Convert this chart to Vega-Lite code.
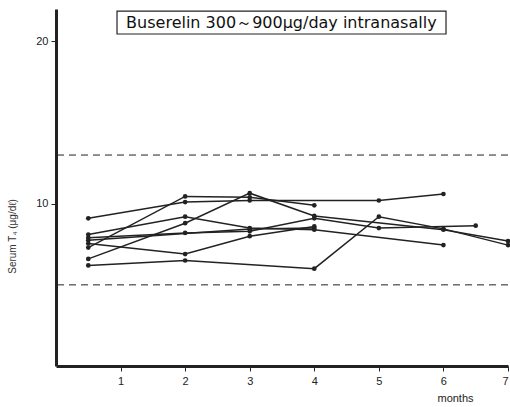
{
  "$schema": "https://vega.github.io/schema/vega-lite/v6.json",
  "width": 452,
  "height": 357,
  "autosize": "none",
  "padding": {"left": 56, "top": 9, "right": 2, "bottom": 41},
  "background": "white",
  "config": {"view": {"stroke": null}, "font": "Liberation Sans"},
  "datasets": {
    "series": [
      {"id": "A", "month": 0.5, "t4": 9.1}, {"id": "A", "month": 2, "t4": 10.1}, {"id": "A", "month": 3, "t4": 10.2}, {"id": "A", "month": 5, "t4": 10.2}, {"id": "A", "month": 6, "t4": 10.6},
      {"id": "B", "month": 0.5, "t4": 7.3}, {"id": "B", "month": 2, "t4": 10.45}, {"id": "B", "month": 3, "t4": 10.4}, {"id": "B", "month": 4, "t4": 9.9},
      {"id": "C", "month": 0.5, "t4": 6.6}, {"id": "C", "month": 2, "t4": 8.8}, {"id": "C", "month": 3, "t4": 10.65}, {"id": "C", "month": 4, "t4": 9.25}, {"id": "C", "month": 6, "t4": 8.4}, {"id": "C", "month": 7, "t4": 7.7},
      {"id": "D", "month": 0.5, "t4": 8.1}, {"id": "D", "month": 2, "t4": 9.2}, {"id": "D", "month": 3, "t4": 8.5}, {"id": "D", "month": 4, "t4": 8.4}, {"id": "D", "month": 6, "t4": 7.45},
      {"id": "E", "month": 0.5, "t4": 7.9}, {"id": "E", "month": 2, "t4": 8.2}, {"id": "E", "month": 3, "t4": 8.3}, {"id": "E", "month": 4, "t4": 9.1}, {"id": "E", "month": 5, "t4": 8.5}, {"id": "E", "month": 6.5, "t4": 8.65},
      {"id": "F", "month": 0.5, "t4": 7.55}, {"id": "F", "month": 2, "t4": 6.9}, {"id": "F", "month": 3, "t4": 8.0}, {"id": "F", "month": 4, "t4": 8.6},
      {"id": "G", "month": 0.5, "t4": 6.2}, {"id": "G", "month": 2, "t4": 6.5}, {"id": "G", "month": 4, "t4": 6.0}, {"id": "G", "month": 5, "t4": 9.2}, {"id": "G", "month": 6, "t4": 8.45}, {"id": "G", "month": 7, "t4": 7.45},
      {"id": "H", "month": 0.5, "t4": 7.75}, {"id": "H", "month": 3, "t4": 8.45}, {"id": "H", "month": 4, "t4": 8.5}
    ],
    "limits": [{"t4": 13}, {"t4": 5}],
    "note": [{"label": "Buserelin 300～900μg/day intranasally"}]
  },
  "layer": [
    {
      "data": {"name": "limits"},
      "mark": {"type": "rule", "color": "#222", "strokeWidth": 1, "strokeDash": [7, 5]},
      "encoding": {"y": {"field": "t4", "type": "quantitative", "scale": {"domain": [0, 22]}}}
    },
    {
      "data": {"name": "series"},
      "mark": {"type": "line", "color": "#222", "strokeWidth": 1.5, "point": {"filled": true, "size": 22, "color": "#222"}},
      "encoding": {
        "x": {"field": "month", "type": "quantitative", "scale": {"domain": [0, 7], "nice": false},
          "axis": {"values": [1, 2, 3, 4, 5, 6, 7], "format": "d", "domainWidth": 3, "domainColor": "#222", "tickColor": "#222", "tickSize": 5, "grid": false, "labelFontSize": 11, "labelColor": "#222", "labelPadding": 4,
            "title": "months", "titleFontSize": 11, "titleFontWeight": "normal", "titleColor": "#222", "titleX": 399, "titleY": 32, "titleBaseline": "middle"}},
        "y": {"field": "t4", "type": "quantitative", "scale": {"domain": [0, 22], "nice": false},
          "axis": {"values": [10, 20], "domainWidth": 3, "domainColor": "#222", "tickColor": "#222", "tickSize": 5, "grid": false, "labelFontSize": 11, "labelColor": "#222", "labelPadding": 3,
            "title": "Serum T₄ (μg/dℓ)", "titleFontSize": 10, "titleFontWeight": "normal", "titleColor": "#333", "titleX": -44, "titleY": 227, "titleAngle": -90, "titleAlign": "center", "titleBaseline": "middle"}},
        "detail": {"field": "id"}
      }
    },
    {
      "data": {"name": "note"},
      "mark": {"type": "rect", "fill": "white", "stroke": "#222", "strokeWidth": 1.2},
      "encoding": {
        "x": {"datum": 0.945, "type": "quantitative"},
        "x2": {"datum": 6.04},
        "y": {"datum": 20.46, "type": "quantitative"},
        "y2": {"datum": 21.87}
      }
    },
    {
      "data": {"name": "note"},
      "mark": {"type": "text", "fontSize": 16, "font": "DejaVu Sans", "color": "#111", "align": "center", "baseline": "middle"},
      "encoding": {
        "text": {"field": "label"},
        "x": {"datum": 3.49, "type": "quantitative"},
        "y": {"datum": 21.16, "type": "quantitative"}
      }
    }
  ]
}
